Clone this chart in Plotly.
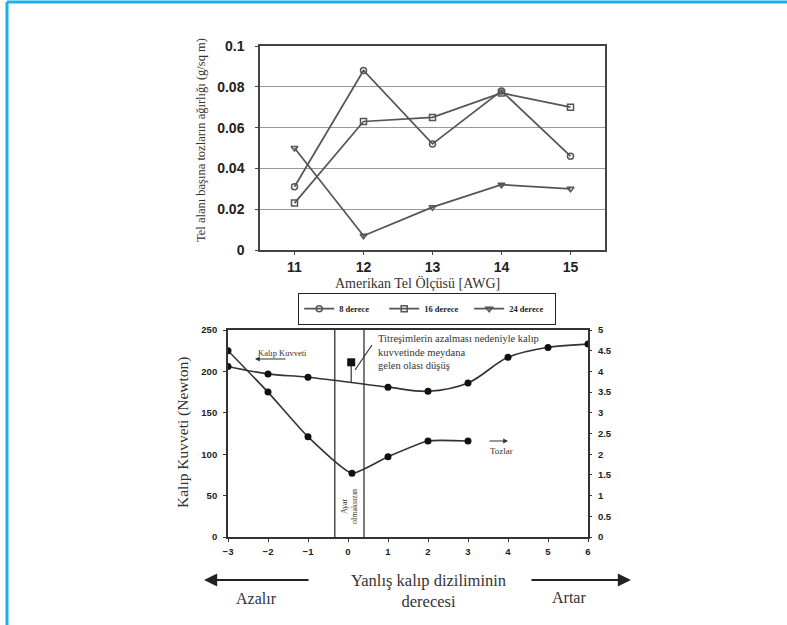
import plotly.graph_objects as go

W, H = 787, 625

# ---------------- data ----------------
awg = [11, 12, 13, 14, 15]
s8 = [0.031, 0.088, 0.052, 0.078, 0.046]
s16 = [0.023, 0.063, 0.065, 0.077, 0.070]
s24 = [0.050, 0.007, 0.021, 0.032, 0.030]
series_names = ["8 derece", "16 derece", "24 derece"]
top_yticks = [0, 0.02, 0.04, 0.06, 0.08, 0.1]
top_yticklabels = ["0", "0.02", "0.04", "0.06", "0.08", "0.1"]

kx = [-3, -2, -1, 1, 2, 3, 4, 5, 6]
kalip = [206, 197, 193, 181, 176, 186, 217, 229, 233]
tx = [-3, -2, -1, 0.1, 1, 2, 3]
toz = [4.5, 3.5, 2.42, 1.54, 1.94, 2.32, 2.32]
drop_x = [0.08, 0.08]
drop_y = [211, 187]
vlines_x = [-0.33, 0.4]
bx_ticks = [-3, -2, -1, 0, 1, 2, 3, 4, 5, 6]
left_ticks = [0, 50, 100, 150, 200, 250]
right_ticks = [0, 0.5, 1, 1.5, 2, 2.5, 3, 3.5, 4, 4.5, 5]
right_ticklabels = ["0", "0.5", "1", "1.5", "2", "2.5", "3", "3.5", "4", "4.5", "5"]

def px(x):
    return x / W

def py(y):
    return (H - y) / H

SERIF = "Liberation Serif"
SANS = "Liberation Sans"
INK = "#333333"
LINE = "#555555"

fig = go.Figure()

# ---------------- top chart ----------------
sym = ["circle-open", "square-open", "triangle-down-open"]
for name, vals, s in zip(series_names, [s8, s16, s24], sym):
    fig.add_trace(go.Scatter(
        x=awg, y=vals, name=name, mode="lines+markers",
        line=dict(color=LINE, width=1.7),
        marker=dict(symbol=s, size=6, color=LINE, line=dict(width=1.5, color=LINE)),
        xaxis="x", yaxis="y"))

# ---------------- bottom chart ----------------
fig.add_trace(go.Scatter(
    x=kx, y=kalip, mode="lines+markers", showlegend=False,
    line=dict(color=INK, width=1.6, shape="spline", smoothing=1.0),
    marker=dict(symbol="circle", size=7, color="#111"),
    xaxis="x2", yaxis="y2"))
fig.add_trace(go.Scatter(
    x=tx, y=toz, mode="lines+markers", showlegend=False,
    line=dict(color=INK, width=1.6, shape="spline", smoothing=0.5),
    marker=dict(symbol="circle", size=7, color="#111"),
    xaxis="x2", yaxis="y3"))
fig.add_trace(go.Scatter(
    x=drop_x, y=drop_y, mode="lines", showlegend=False,
    line=dict(color=INK, width=1.2), xaxis="x2", yaxis="y2"))
fig.add_trace(go.Scatter(
    x=drop_x[:1], y=drop_y[:1], mode="markers", showlegend=False,
    marker=dict(symbol="square", size=8, color="#111"), xaxis="x2", yaxis="y2"))

shapes = []
for vx in vlines_x:
    shapes.append(dict(type="line", xref="x2", yref="y2", x0=vx, x1=vx, y0=0, y1=250,
                       line=dict(color=INK, width=1.3)))
# leader line for annotation
shapes.append(dict(type="line", xref="paper", yref="paper",
                   x0=px(355), y0=py(370), x1=px(372), y1=py(345),
                   line=dict(color=INK, width=1.2)))
# blue frame
shapes.append(dict(type="line", xref="paper", yref="paper",
                   x0=px(7), y0=py(2), x1=1, y1=py(2),
                   line=dict(color="#1ab0e8", width=3)))
shapes.append(dict(type="line", xref="paper", yref="paper",
                   x0=px(7), y0=py(2), x1=px(7), y1=0,
                   line=dict(color="#1ab0e8", width=3)))

def txt(text, x, y, size, xa="center", ya="middle", angle=0, align="center", fam=SERIF):
    return dict(text=text, x=px(x), y=py(y), xref="paper", yref="paper", showarrow=False,
                xanchor=xa, yanchor=ya, textangle=angle, align=align,
                font=dict(family=fam, size=size, color=INK))

def arrow(x, y, ax, size=0.8, width=1.2, color=INK):
    return dict(text="", x=px(x), y=py(y), ax=ax, ay=0, xref="paper", yref="paper",
                showarrow=True, arrowhead=2, arrowsize=size, arrowwidth=width,
                arrowcolor=color)

ann = [
    txt("Tel alanı başına tozların ağırlığı (g/sq m)", 201, 140, 12.5, angle=-90),
    txt("Amerikan Tel Ölçüsü [AWG]", 417, 283, 14),
    txt("Kalıp Kuvveti (Newton)", 183, 432, 15.5, angle=-90),
    txt("Titreşimlerin azalması nedeniyle kalıp<br>kuvvetinde meydana<br>gelen olası düşüş",
        376, 331, 10.5, xa="left", ya="top", align="left"),
    txt("Kalıp Kuvveti", 256, 353, 8.5, xa="left"),
    arrow(255, 359, 32),
    txt("Tozlar", 488, 451, 9, xa="left"),
    arrow(508, 441, -20),
    txt("Ayar<br>olmaksızın", 349, 507, 8, angle=-90),
    txt("Yanlış kalıp diziliminin<br>derecesi", 428, 591, 16.5),
    txt("Azalır", 256, 598, 16),
    txt("Artar", 569, 597, 16),
    arrow(204, 580, 106, size=1.2, width=2.2, color="#222"),
    arrow(631, 580, -101, size=1.2, width=2.2, color="#222"),
]

tickbold = dict(family=SANS, size=14, color="#222", weight="bold")
smallbold = dict(family=SANS, size=9.5, color="#222", weight="bold")

fig.update_layout(
    width=W, height=H, margin=dict(l=0, r=0, t=0, b=0),
    paper_bgcolor="white", plot_bgcolor="white",
    showlegend=True,
    legend=dict(orientation="h", x=px(298), y=py(293), xanchor="left", yanchor="top",
                bordercolor="#222", borderwidth=1.2, bgcolor="white",
                font=dict(family=SERIF, size=8.5, color="#222", weight="bold"),
                itemwidth=30, tracegroupgap=0, entrywidth=40),
    xaxis=dict(domain=[px(260), px(605)], anchor="y", range=[10.5, 15.5],
               tickvals=awg, ticktext=[str(a) for a in awg], tickfont=tickbold,
               showgrid=False, zeroline=False, showline=True, linecolor="#444", linewidth=1.5,
               mirror=True, ticks="outside", ticklen=3, tickcolor="#444", automargin=False),
    yaxis=dict(domain=[py(250), py(46)], anchor="x", range=[0, 0.1],
               tickvals=top_yticks, ticktext=top_yticklabels, tickfont=tickbold,
               showgrid=True, gridcolor="#999", gridwidth=1.4, zeroline=False,
               showline=True, linecolor="#444", linewidth=1.5, mirror=True,
               ticks="outside", ticklen=3, tickcolor="#444", automargin=False,
               ticklabelstandoff=8),
    xaxis2=dict(domain=[px(228), px(588)], anchor="y2", range=[-3, 6],
                tickvals=bx_ticks, tickfont=smallbold, showgrid=False, zeroline=False,
                showline=True, linecolor="#333", linewidth=1.8, mirror=True,
                ticks="outside", ticklen=3, tickcolor="#333", automargin=False,
                ticklabelstandoff=2),
    yaxis2=dict(domain=[py(537), py(330)], anchor="x2", range=[0, 250],
                tickvals=left_ticks, tickfont=smallbold, showgrid=False, zeroline=False,
                showline=True, linecolor="#333", linewidth=1.8, mirror=True,
                ticks="outside", ticklen=3, tickcolor="#333", automargin=False,
                ticklabelstandoff=4),
    yaxis3=dict(overlaying="y2", anchor="x2", side="right", range=[0, 5],
                tickvals=right_ticks, ticktext=right_ticklabels, tickfont=smallbold,
                showgrid=False, zeroline=False, showline=False,
                ticks="outside", ticklen=3, tickcolor="#333", automargin=False,
                ticklabelstandoff=4),
    shapes=shapes, annotations=ann,
)

fig.write_html("out.html")
